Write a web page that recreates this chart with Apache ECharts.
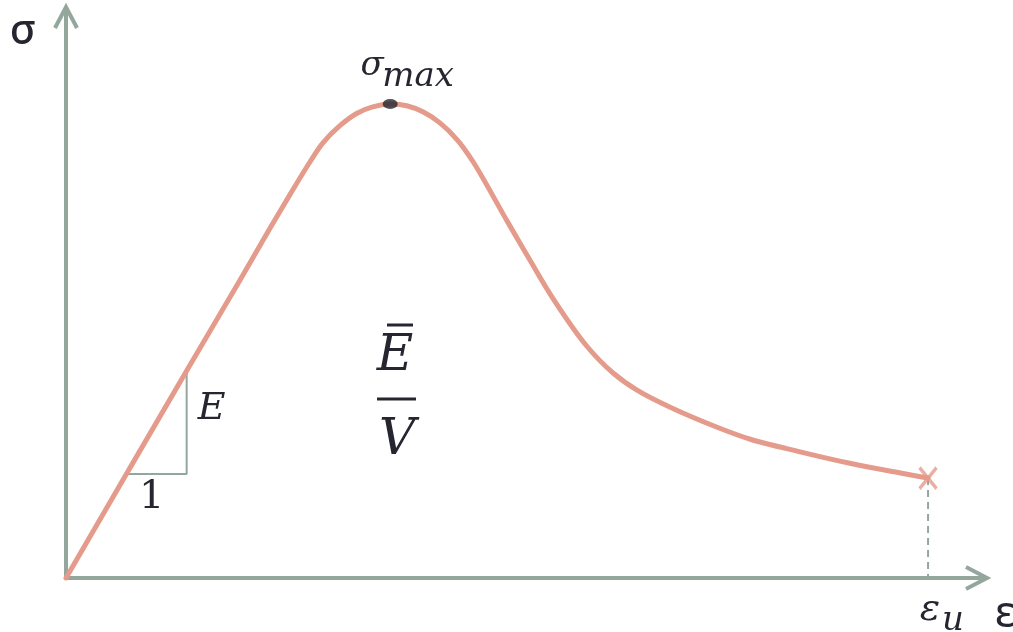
<!DOCTYPE html>
<html>
<head>
<meta charset="utf-8">
<script src="https://cdn.jsdelivr.net/npm/echarts@6/dist/echarts.min.js"></script>
<style>
  html, body { margin: 0; padding: 0; background: #ffffff; }
  #chart { width: 1013px; height: 632px; }
</style>
</head>
<body>
<div id="chart"></div>
<script>
// Stress–strain curve (arbitrary units, 0–100 on both axes)
const strain = [0, 6.7, 13.1, 18.9, 22.1, 24.3, 26.5, 27.9, 29.8, 31.6, 33.3, 35.2, 37.0, 38.8, 40.6, 42.5, 44.2, 47.9, 50.4, 52.9, 56.6, 59.4, 62.0, 65.6, 70.7, 74.3, 79.7, 85.1, 90.6, 93.6];
const stress = [0, 18.6, 36.3, 52.2, 61.1, 67.1, 72.9, 76.2, 79.3, 81.4, 82.5, 83.0, 82.7, 81.6, 79.7, 76.7, 72.9, 62.5, 55.6, 48.9, 40.5, 35.9, 32.9, 29.9, 26.4, 24.3, 22.1, 20.1, 18.4, 17.5];

// Slope triangle on the elastic part (run of 1, rise of E)
const slopeStrain = [6.7, 13.1, 13.1];
const slopeStress = [18.2, 18.2, 36.4];

// Peak stress and ultimate strain
const peakStrain = 35.2;
const peakStress = 83.0;
const ultStrain = strain[strain.length - 1];
const ultStress = stress[stress.length - 1];

const AXIS = '#94a79c';
const CURVE = '#e59b8b';
const INK = '#262631';
const MATH = '"DejaVu Serif", serif';

const zip = (a, b) => a.map((v, i) => [v, b[i]]);

// Centripetal Catmull-Rom spline through pixel points, as SVG path data
function splinePath(p) {
  const n = p.length;
  let d = 'M' + p[0][0] + ',' + p[0][1];
  const dist = (a, b) => Math.sqrt(Math.hypot(b[0] - a[0], b[1] - a[1])) || 1e-6;
  for (let i = 0; i < n - 1; i++) {
    const p0 = p[Math.max(i - 1, 0)], p1 = p[i], p2 = p[i + 1], p3 = p[Math.min(i + 2, n - 1)];
    const d1 = i === 0 ? dist(p1, p2) : dist(p0, p1);
    const d2 = dist(p1, p2);
    const d3 = i + 2 > n - 1 ? dist(p1, p2) : dist(p2, p3);
    const q0 = i === 0 ? [2 * p1[0] - p2[0], 2 * p1[1] - p2[1]] : p0;
    const q3 = i + 2 > n - 1 ? [2 * p2[0] - p1[0], 2 * p2[1] - p1[1]] : p3;
    const b1 = [0, 1].map(k => (d1 * d1 * p2[k] - d2 * d2 * q0[k] + (2 * d1 * d1 + 3 * d1 * d2 + d2 * d2) * p1[k]) / (3 * d1 * (d1 + d2)));
    const b2 = [0, 1].map(k => (d3 * d3 * p1[k] - d2 * d2 * q3[k] + (2 * d3 * d3 + 3 * d3 * d2 + d2 * d2) * p2[k]) / (3 * d3 * (d3 + d2)));
    d += 'C' + b1[0] + ',' + b1[1] + ' ' + b2[0] + ',' + b2[1] + ' ' + p2[0] + ',' + p2[1];
  }
  return d;
}

const chart = echarts.init(document.getElementById('chart'), null, { renderer: 'canvas' });

const axisCommon = {
  type: 'value', min: 0, max: 100,
  axisLine: { show: true, onZero: false, lineStyle: { color: AXIS, width: 4, cap: 'butt' } },
  axisTick: { show: false }, axisLabel: { show: false }, splitLine: { show: false }
};

chart.setOption({
  animation: false,
  grid: { left: 66, right: 26, top: 7, bottom: 54 },
  xAxis: axisCommon,
  yAxis: axisCommon,
  series: [
    {
      type: 'line', data: zip(slopeStrain, slopeStress), showSymbol: false,
      lineStyle: { color: AXIS, width: 2 }, z: 2
    },
    {
      type: 'line', data: [[ultStrain, ultStress], [ultStrain, 0]], showSymbol: false,
      lineStyle: { color: AXIS, width: 2, type: [7, 5] }, z: 2
    },
    {
      type: 'custom', data: zip(strain, stress), z: 3,
      renderItem: function (params, api) {
        if (params.dataIndex !== 0) return null;
        const pts = strain.map((x, i) => api.coord([x, stress[i]]));
        return {
          type: 'path',
          shape: { pathData: splinePath(pts) },
          style: { stroke: CURVE, lineWidth: 5, fill: null, lineCap: 'round' }
        };
      }
    },
    {
      type: 'scatter', data: [[peakStrain, peakStress]], symbol: 'circle', symbolSize: [15, 10],
      itemStyle: { color: INK }, z: 5
    },
    {
      type: 'scatter', data: [[ultStrain, ultStress]], symbol: 'path://M0,0L10,12M10,0L0,12',
      symbolSize: [17, 21], itemStyle: { color: 'none', borderColor: CURVE, borderWidth: 3.5 }, z: 5
    }
  ]
});

// Annotations placed relative to data anchors
function px(x, y) { return chart.convertToPixel({ gridIndex: 0 }, [x, y]); }

const origin = px(0, 0);
const xEnd = px(100, 0);
const yEnd = px(0, 100);
const peak = px(peakStrain, peakStress);
const ult = px(ultStrain, 0);
const tri = px(slopeStrain[1], slopeStress[0]);

function txt(text, x, y, size, family, opts) {
  return {
    type: 'text', x: x, y: y, z: 10,
    style: Object.assign({
      text: text, fill: INK, font: size + 'px ' + family,
      textAlign: 'center', textVerticalAlign: 'middle'
    }, opts || {})
  };
}
function italic(text, x, y, size, opts) {
  return txt(text, x, y, size, MATH, Object.assign({ font: 'italic ' + size + 'px ' + MATH }, opts || {}));
}
function seg(points, width, color) {
  return { type: 'polyline', z: 9, shape: { points: points },
    style: { stroke: color, lineWidth: width, fill: null, lineJoin: 'miter' } };
}

chart.setOption({
  graphic: [
    // axis arrowheads
    seg([[xEnd[0] - 21, xEnd[1] - 11], [xEnd[0], xEnd[1]], [xEnd[0] - 21, xEnd[1] + 11]], 4, AXIS),
    seg([[yEnd[0] - 11, yEnd[1] + 21], [yEnd[0], yEnd[1]], [yEnd[0] + 11, yEnd[1] + 21]], 4, AXIS),
    // axis names
    txt('σ', origin[0] - 43, yEnd[1] + 25, 42, '"Noto Sans", sans-serif', { font: '500 42px "Noto Sans", sans-serif' }),
    txt('ε', xEnd[0] + 18, xEnd[1] + 36, 44, '"Noto Sans", sans-serif'),
    // peak label
    italic('σ', peak[0] - 18, peak[1] - 38, 34),
    italic('max', peak[0] - 8, peak[1] - 27, 34, { textAlign: 'left' }),
    // ultimate strain label
    italic('ε', ult[0] + 2, ult[1] + 32, 38),
    italic('u', ult[0] + 25, ult[1] + 43, 34),
    // slope triangle labels
    italic('E', tri[0] + 25, tri[1] - 65, 38),
    txt('1', tri[0] - 35, tri[1] + 24, 40, MATH),
    // energy-per-volume fraction
    italic('E', 395, 357, 50),
    seg([[387, 325], [413, 325]], 3, INK),
    seg([[377, 399], [416, 399]], 3, INK),
    italic('V', 397, 441, 50)
  ]
});
</script>
</body>
</html>
